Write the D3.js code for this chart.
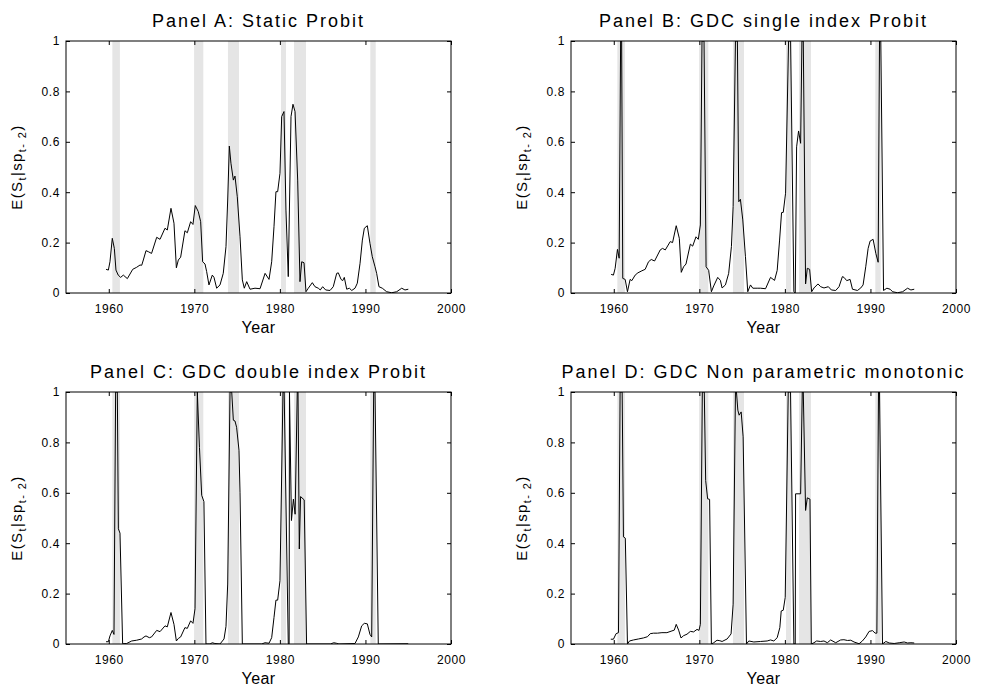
<!DOCTYPE html>
<html>
  <head>
    <meta charset="utf-8">
    <title>Recession probabilities</title>
    <style media="screen">
      body { margin: 0; background: #fff; }
      svg text { font-family: "Liberation Sans", Arial, sans-serif; fill: #000; }
      .tick text { font-size: 12px; letter-spacing: 0.6px; }
      .tick line { stroke: #000; }
      path.domain { display: none; }
      text.title { font-size: 18px; letter-spacing: 2px; }
      text.xlabel { font-size: 16px; letter-spacing: 0.4px; }
      text.ylabel { font-size: 15px; letter-spacing: 1.4px; }
    </style>
  </head>
  <body>
    <svg id="chart" width="988" height="691"></svg>

    <script src="https://cdnjs.cloudflare.com/ajax/libs/d3/7.8.5/d3.min.js"></script>
    <script type="text/javascript">
      // NBER recession shading (start, end), in years
      var recStart = [1960.42, 1969.97, 1973.93, 1980.13, 1981.65, 1990.57];
      var recEnd   = [1961.30, 1971.05, 1975.22, 1980.71, 1983.05, 1991.20];

      var xTicks = [1960, 1970, 1980, 1990, 2000];
      var yTicks = [0, 0.2, 0.4, 0.6, 0.8, 1];

      var titles = [
        "Panel A: Static Probit",
        "Panel B: GDC single index Probit",
        "Panel C: GDC double index Probit",
        "Panel D: GDC Non parametric monotonic"
      ];

      // Panel A
      var dateA = [1959.68,1959.95,1960.14,1960.41,1960.65,1960.84,1961.10,1961.39,1961.70,1962.17,1962.80,1963.26,1963.65,1963.85,1964.04,1964.35,1964.62,1965.00,1965.60,1965.99,1966.57,1966.84,1967.27,1967.62,1967.90,1968.13,1968.40,1968.90,1969.18,1969.57,1969.84,1970.11,1970.46,1970.74,1970.97,1971.25,1971.44,1971.71,1972.10,1972.30,1972.61,1973.00,1973.38,1973.70,1973.90,1974.09,1974.28,1974.56,1974.75,1975.02,1975.34,1975.61,1975.84,1976.12,1976.51,1977.09,1977.68,1978.27,1978.73,1979.04,1979.31,1979.54,1979.74,1980.01,1980.21,1980.48,1980.71,1980.98,1981.30,1981.53,1981.77,1982.08,1982.35,1982.55,1982.82,1983.05,1983.32,1983.79,1984.10,1984.49,1984.72,1985.00,1985.35,1985.86,1986.24,1986.64,1986.83,1987.15,1987.34,1987.53,1987.81,1988.12,1988.40,1988.78,1989.05,1989.37,1989.64,1989.87,1990.22,1990.53,1990.80,1991.12,1991.31,1991.58,1991.97,1992.48,1993.07,1993.65,1994.24,1994.62,1995.01];
      var probA = [0.094,0.091,0.124,0.217,0.177,0.091,0.071,0.062,0.071,0.057,0.094,0.102,0.111,0.110,0.131,0.168,0.164,0.157,0.221,0.213,0.257,0.250,0.336,0.277,0.100,0.131,0.142,0.247,0.239,0.283,0.272,0.347,0.323,0.283,0.124,0.115,0.085,0.032,0.071,0.062,0.019,0.032,0.078,0.184,0.369,0.583,0.515,0.448,0.464,0.382,0.223,0.052,0.019,0.045,0.015,0.019,0.017,0.078,0.054,0.124,0.263,0.402,0.402,0.475,0.700,0.720,0.329,0.065,0.700,0.749,0.720,0.448,0.045,0.124,0.120,0.005,0.019,0.041,0.025,0.019,0.012,0.025,0.012,0.010,0.025,0.078,0.080,0.054,0.049,0.062,0.015,0.019,0.010,0.019,0.039,0.118,0.210,0.257,0.267,0.197,0.144,0.104,0.078,0.025,0.019,0.005,0.001,0.005,0.019,0.012,0.015];

      // Panel B
      var dateB = [1959.69,1959.96,1960.16,1960.43,1960.63,1960.80,1960.92,1961.05,1961.33,1961.60,1961.91,1962.11,1962.50,1962.82,1963.28,1963.67,1964.06,1964.38,1964.77,1965.43,1965.70,1966.02,1966.60,1966.87,1967.30,1967.66,1967.89,1968.16,1968.44,1968.95,1969.22,1969.61,1969.88,1970.12,1970.31,1970.55,1970.79,1971.09,1971.41,1971.68,1972.15,1972.46,1972.66,1973.05,1973.43,1973.75,1973.95,1974.22,1974.45,1974.61,1974.80,1975.08,1975.39,1975.66,1975.98,1976.25,1976.76,1977.15,1977.74,1978.32,1978.79,1979.10,1979.38,1979.61,1979.81,1980.08,1980.43,1980.67,1981.05,1981.21,1981.37,1981.60,1981.84,1981.99,1982.15,1982.42,1982.62,1982.89,1983.13,1983.40,1983.87,1984.18,1984.57,1985.08,1985.43,1985.94,1986.33,1986.72,1986.91,1987.23,1987.62,1987.90,1988.48,1988.87,1989.14,1989.45,1989.73,1989.96,1990.31,1990.63,1990.90,1991.06,1991.21,1991.53,1991.92,1992.30,1992.59,1993.17,1993.76,1994.34,1994.73,1995.12];
      var probB = [0.074,0.071,0.098,0.173,0.138,1.0,1.0,0.058,0.054,0.005,0.054,0.049,0.071,0.080,0.088,0.094,0.124,0.133,0.127,0.171,0.177,0.171,0.204,0.200,0.267,0.217,0.082,0.104,0.115,0.194,0.186,0.223,0.213,0.270,1.0,1.0,0.104,0.090,0.005,0.028,0.062,0.050,0.020,0.032,0.078,0.184,0.343,1.0,1.0,0.362,0.372,0.290,0.144,0.005,0.032,0.019,0.019,0.019,0.017,0.062,0.050,0.090,0.210,0.319,0.320,0.396,1.0,1.0,0.005,0.0,0.580,0.643,0.594,1.0,1.0,0.036,0.098,0.094,0.005,0.020,0.036,0.025,0.020,0.025,0.012,0.010,0.025,0.065,0.062,0.049,0.054,0.015,0.010,0.020,0.032,0.104,0.177,0.206,0.213,0.157,0.122,1.0,1.0,0.010,0.019,0.015,0.005,0.001,0.005,0.019,0.012,0.015];

      // Panel C
      var dateC = [1959.68,1959.95,1960.14,1960.41,1960.61,1960.80,1961.00,1961.12,1961.31,1961.62,1962.09,1962.68,1963.26,1963.84,1964.12,1964.35,1964.74,1965.00,1965.60,1965.99,1966.57,1966.84,1967.27,1967.62,1967.90,1968.13,1968.40,1968.90,1969.18,1969.57,1969.84,1970.08,1970.35,1970.60,1970.86,1971.12,1971.36,1971.83,1972.10,1972.40,1973.00,1973.47,1973.70,1973.90,1974.17,1974.37,1974.56,1974.75,1974.94,1975.22,1975.34,1975.61,1977.09,1977.87,1978.26,1978.73,1979.04,1979.31,1979.54,1979.74,1980.01,1980.36,1980.50,1980.98,1981.08,1981.12,1981.35,1981.58,1981.78,1982.03,1982.12,1982.27,1982.42,1982.84,1983.12,1985.90,1986.30,1986.60,1986.90,1988.78,1989.17,1989.56,1989.87,1990.22,1990.53,1990.73,1990.96,1991.12,1991.50,1995.00];
      var probC = [0.009,0.009,0.032,0.054,0.038,1.0,1.0,0.457,0.440,0.001,0.002,0.012,0.015,0.020,0.028,0.032,0.025,0.028,0.054,0.049,0.072,0.068,0.125,0.078,0.012,0.022,0.028,0.065,0.062,0.092,0.082,0.140,1.0,0.780,0.590,0.565,0.0,0.0,0.005,0.002,0.0,0.020,0.070,0.238,1.0,1.0,0.888,0.885,0.860,0.769,0.600,0.0,0.0,0.0,0.005,0.003,0.025,0.105,0.174,0.174,0.251,1.0,1.0,0.0,0.0,1.0,0.490,0.575,0.515,1.0,1.0,0.377,0.585,0.572,0.0,0.0,0.005,0.003,0.0,0.002,0.028,0.072,0.082,0.080,0.038,0.028,1.0,1.0,0.0,0.001];

      // Panel D
      var dateD = [1959.65,1959.96,1960.27,1960.55,1960.74,1960.98,1961.13,1961.35,1961.60,1961.84,1962.30,1962.89,1963.47,1963.94,1964.26,1964.65,1965.10,1965.63,1966.21,1966.80,1967.07,1967.30,1967.58,1967.86,1968.16,1968.56,1968.95,1969.33,1969.73,1969.96,1970.12,1970.35,1970.58,1970.74,1970.97,1971.20,1971.41,1971.68,1972.07,1972.40,1972.66,1973.25,1973.71,1973.95,1974.22,1974.34,1974.50,1974.65,1974.89,1975.12,1975.51,1975.78,1976.37,1977.15,1977.93,1978.32,1978.71,1979.10,1979.41,1979.57,1979.81,1980.04,1980.39,1980.66,1981.05,1981.21,1981.25,1981.84,1982.03,1982.15,1982.42,1982.62,1982.93,1983.09,1983.40,1983.71,1984.18,1984.57,1984.96,1985.35,1985.94,1986.52,1986.90,1987.31,1987.70,1988.08,1988.67,1989.06,1989.45,1989.84,1990.24,1990.55,1990.75,1990.94,1991.06,1991.41,1991.80,1992.19,1992.77,1993.36,1993.94,1994.34,1994.73,1995.12];
      var probD = [0.019,0.019,0.041,0.045,1.0,1.0,0.425,0.420,0.0,0.012,0.016,0.020,0.024,0.029,0.041,0.043,0.043,0.045,0.045,0.052,0.055,0.078,0.055,0.024,0.033,0.039,0.050,0.048,0.058,0.054,0.078,1.0,1.0,0.649,0.576,0.574,0.0,0.005,0.015,0.013,0.010,0.020,0.040,0.158,1.0,1.0,0.928,0.908,0.921,0.822,0.0,0.012,0.008,0.010,0.012,0.016,0.012,0.025,0.065,0.131,0.134,0.185,1.0,1.0,0.0,0.0,0.596,0.596,1.0,1.0,0.530,0.580,0.575,0.0,0.005,0.012,0.010,0.012,0.005,0.016,0.005,0.016,0.017,0.014,0.015,0.008,0.001,0.012,0.028,0.050,0.053,0.043,0.043,1.0,1.0,0.0,0.010,0.004,0.002,0.005,0.008,0.004,0.005,0.004];

      var dates = [dateA, dateB, dateC, dateD];
      var probs = [probA, probB, probC, probD];

      var svg = d3.select("#chart");
      var colLeft = [66, 571], rowTop = [41, 392];
      var w = 385, h = 252;

      titles.forEach(function(title, i) {
        var left = colLeft[i % 2], top = rowTop[Math.floor(i / 2)];
        var g = svg.append("g").attr("transform", "translate(" + left + "," + top + ")");

        var x = d3.scaleLinear().domain([1955, 2000]).range([0, w]);
        var y = d3.scaleLinear().domain([0, 1]).range([h, 0]);

        g.append("clipPath").attr("id", "clip" + i)
          .append("rect").attr("width", w).attr("height", h);

        // recession bands
        g.selectAll("rect.band")
          .data(recStart)
          .enter()
          .append("rect")
          .attr("class", "band")
          .attr("x", function(d) { return x(d); })
          .attr("width", function(d, j) { return x(recEnd[j]) - x(d); })
          .attr("y", y(1))
          .attr("height", y(0) - y(1))
          .attr("fill", "#e5e5e5");

        var pts = dates[i].map(function(d, j) { return [d, probs[i][j]]; });
        var line = d3.line()
          .x(function(d) { return x(d[0]); })
          .y(function(d) { return y(d[1]); });

        g.append("path")
          .datum(pts)
          .attr("d", line)
          .attr("clip-path", "url(#clip" + i + ")")
          .attr("fill", "none")
          .attr("stroke", "#000")
          .attr("stroke-width", 1)
          .attr("stroke-linejoin", "round");

        // axes, ticks pointing inwards on all four sides
        g.append("g")
          .attr("transform", "translate(0," + h + ")")
          .call(d3.axisBottom(x).tickValues(xTicks).tickFormat(d3.format("d")).tickSize(-4).tickPadding(11));
        g.append("g")
          .call(d3.axisTop(x).tickValues(xTicks).tickFormat("").tickSize(-4));
        g.append("g")
          .call(d3.axisLeft(y).tickValues(yTicks).tickFormat(d3.format("~g")).tickSize(-4).tickPadding(6));
        g.append("g")
          .attr("transform", "translate(" + w + ",0)")
          .call(d3.axisRight(y).tickValues(yTicks).tickFormat("").tickSize(-4));

        g.append("rect")
          .attr("width", w).attr("height", h)
          .attr("fill", "none").attr("stroke", "#000").attr("stroke-width", 1);

        g.append("text")
          .attr("class", "title")
          .attr("x", w / 2).attr("y", -14)
          .attr("text-anchor", "middle")
          .text(title);

        g.append("text")
          .attr("class", "xlabel")
          .attr("x", w / 2).attr("y", h + 40)
          .attr("text-anchor", "middle")
          .text("Year");

        var yl = g.append("text")
          .attr("class", "ylabel")
          .attr("text-anchor", "middle")
          .attr("transform", "translate(-44," + (h / 2) + ") rotate(-90)");
        yl.append("tspan").text("E(S");
        yl.append("tspan").attr("dy", 4).style("font-size", "11px").text("t");
        yl.append("tspan").attr("dy", -4).text("|sp");
        yl.append("tspan").attr("dy", 4).style("font-size", "11px").text("t- 2");
        yl.append("tspan").attr("dy", -4).text(")");
      });
    </script>
  </body>
</html>
